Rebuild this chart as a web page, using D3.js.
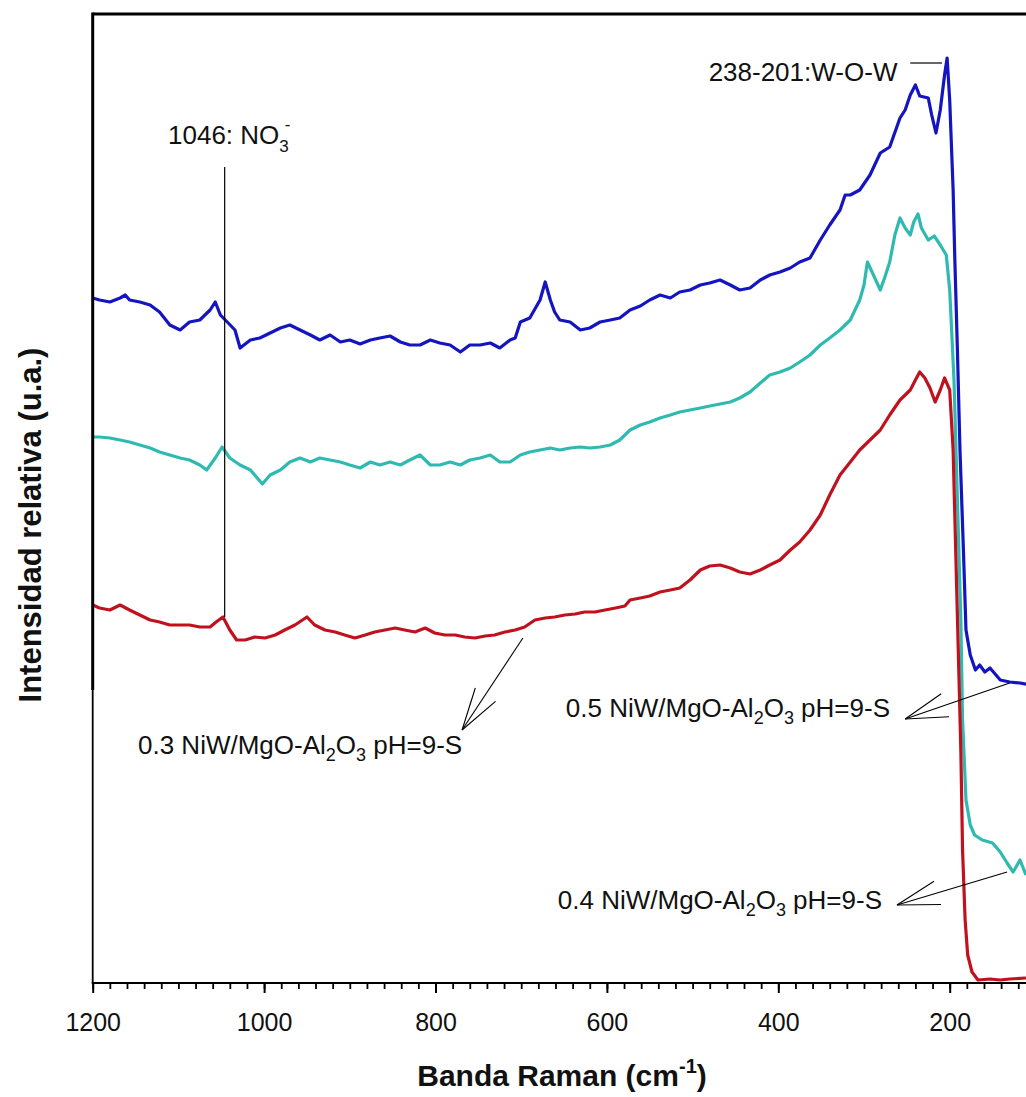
<!DOCTYPE html>
<html>
<head>
<meta charset="utf-8">
<script src="https://cdn.jsdelivr.net/npm/d3@7"></script>
<style>
  html, body { margin: 0; padding: 0; background: #fff; }
  svg { display: block; font-family: Arial, "Liberation Sans", sans-serif; }
</style>
</head>
<body>
<svg id="chart" width="1026" height="1097"></svg>
<script>
// Raman spectra of NiW/MgO-Al2O3 catalysts (pH=9, sulfided)
// wavenumber in cm-1, intensity in arbitrary units

const wnBlue = [1200,1192,1180,1168,1162,1157,1145,1133,1122,1110,1098,1087,1075,1063,1057,1051,1043,1034,1028,1016,1005,993,981,970,958,946,935,923,911,900,888,876,865,853,841,830,818,806,795,783,771,760,748,736,725,713,707,701,690,678,672,666,661,655,643,631,620,608,596,585,573,561,550,538,526,515,503,491,480,468,456,445,433,421,410,398,386,375,363,351,340,328,322,316,305,293,281,270,258,252,246,240,235,225,221,216,211,206,203,200,196,194,191,188,184,181,176,170,165,159,153,141,130,118,106];
const intBlue = [685,683,681,685,688,683,681,678,671,658,653,661,663,673,681,668,661,653,635,643,645,650,655,658,653,648,643,648,641,643,639,643,645,647,641,638,638,643,640,638,631,638,638,640,635,643,645,661,665,683,701,683,671,663,661,653,655,661,663,665,673,677,683,688,685,691,693,698,700,703,698,693,695,703,708,711,715,721,725,743,758,773,788,788,793,808,830,836,865,873,888,898,887,885,868,850,873,908,925,883,793,723,633,533,433,353,328,313,318,311,315,303,301,300,298];

const wnCyan = [1200,1192,1180,1168,1157,1145,1133,1122,1110,1098,1087,1075,1067,1057,1049,1040,1028,1016,1002,993,981,970,958,946,935,923,911,900,888,876,865,853,841,830,818,806,795,783,771,760,748,736,725,713,701,690,678,666,655,643,631,620,608,596,585,573,561,550,538,526,515,503,491,480,468,456,445,433,421,410,398,386,375,363,351,340,328,316,305,300,296,289,281,276,270,264,258,252,246,242,237,233,225,218,211,204,200,195,191,187,185,181,176,171,162,150,141,133,126,118,111];
const intCyan = [546,546,545,543,541,538,535,531,528,525,523,518,513,525,536,525,518,513,499,508,513,521,525,521,525,523,521,518,515,521,518,521,518,523,528,518,518,521,518,523,525,528,521,521,528,531,533,535,533,535,536,535,536,538,543,553,558,561,565,568,571,573,575,577,579,581,585,591,600,608,611,615,621,628,638,645,653,663,683,698,721,708,693,705,721,748,765,755,748,761,769,755,743,747,738,728,693,603,483,363,263,183,158,148,143,140,131,120,111,123,108];

const wnRed = [1200,1192,1180,1168,1157,1145,1133,1122,1110,1098,1087,1075,1063,1056,1048,1040,1032,1022,1011,999,987,976,964,950,941,929,917,906,894,882,871,859,847,836,824,812,801,789,777,766,754,742,731,719,707,696,684,672,661,649,637,626,614,602,590,579,573,561,550,538,526,515,503,491,480,468,456,445,433,421,410,398,386,375,363,351,340,328,316,305,293,281,270,258,246,240,235,229,223,217,211,206,200,196,193,190,187,185,182,179,174,167,153,141,130,111];
const intRed = [378,375,373,378,373,368,363,361,358,358,358,356,356,361,366,353,343,343,346,345,348,353,358,366,358,353,351,348,345,348,351,353,355,353,351,355,350,348,348,346,345,347,348,351,353,356,363,365,366,368,369,371,371,373,375,377,383,385,387,391,393,395,403,413,417,418,415,411,409,413,418,423,433,441,453,468,488,508,521,533,543,553,568,583,593,603,611,605,595,581,593,605,593,533,433,333,233,133,63,28,11,3,4,3,4,5];

const seriesNames = ["0.5 NiW/MgO-Al2O3 pH=9-S", "0.4 NiW/MgO-Al2O3 pH=9-S", "0.3 NiW/MgO-Al2O3 pH=9-S"];
const seriesColors = ["#1414c0", "#2fbab1", "#c0121e"];

const majorTicks = [1200, 1000, 800, 600, 400, 200];
const minorTicks = d3.range(1200, 99, -20);

// band markers: nitrate at 1046 cm-1, W-O-W doublet 238-201 cm-1
const nitrateBand = 1046;

const svg = d3.select("#chart");
const W = 1026;
const plotLeft = 92.7, plotTop = 14, plotBottom = 983;
const plotRight = plotLeft + 1100 * 0.857;

const x = d3.scaleLinear().domain([1200, 100]).range([plotLeft, plotRight]);
const y = d3.scaleLinear().domain([0, 969]).range([plotBottom, plotTop]);

// spectra
const line = d3.line().x(d => x(d[0])).y(d => y(d[1]));
const series = [
  { wn: wnBlue, val: intBlue, color: seriesColors[0] },
  { wn: wnCyan, val: intCyan, color: seriesColors[1] },
  { wn: wnRed, val: intRed, color: seriesColors[2] }
];
svg.append("g").selectAll("path").data(series).join("path")
  .attr("d", s => line(s.wn.map((w, i) => [w, s.val[i]])))
  .attr("fill", "none")
  .attr("stroke", s => s.color)
  .attr("stroke-width", 3.2)
  .attr("stroke-linejoin", "round");

// frame
svg.append("line").attr("x1", plotLeft).attr("x2", W + 5).attr("y1", plotTop).attr("y2", plotTop)
  .attr("stroke", "#000").attr("stroke-width", 3);
svg.append("line").attr("x1", plotLeft).attr("x2", plotLeft).attr("y1", plotTop - 1.5).attr("y2", 690)
  .attr("stroke", "#000").attr("stroke-width", 3);
svg.append("line").attr("x1", plotLeft).attr("x2", plotLeft).attr("y1", 690).attr("y2", plotBottom)
  .attr("stroke", "#000").attr("stroke-width", 1.8);
svg.append("line").attr("x1", plotLeft - 1).attr("x2", W + 5).attr("y1", plotBottom).attr("y2", plotBottom)
  .attr("stroke", "#000").attr("stroke-width", 2.2);

// bottom axis: minor and major ticks
const minorAxis = d3.axisBottom(x).tickValues(minorTicks).tickSize(6).tickFormat("");
const gMinor = svg.append("g").attr("transform", `translate(0,${plotBottom})`).call(minorAxis);
gMinor.select(".domain").remove();
gMinor.selectAll("line").attr("stroke", "#000").attr("stroke-width", 1.8);

const majorAxis = d3.axisBottom(x).tickValues(majorTicks).tickSize(10).tickPadding(20).tickFormat(d3.format("d"));
const gMajor = svg.append("g").attr("transform", `translate(0,${plotBottom})`).call(majorAxis);
gMajor.select(".domain").remove();
gMajor.selectAll("line").attr("stroke", "#000").attr("stroke-width", 2);
gMajor.selectAll("text").attr("font-size", 25).attr("fill", "#111")
  .attr("font-family", "Arial, 'Liberation Sans', sans-serif");

// axis titles
const xTitle = svg.append("text").attr("x", 562).attr("y", 1086).attr("text-anchor", "middle")
  .attr("font-size", 30).attr("font-weight", "bold").attr("fill", "#111");
xTitle.append("tspan").text("Banda Raman (cm");
xTitle.append("tspan").attr("font-size", 20).attr("dy", -13).text("-1");
xTitle.append("tspan").attr("dy", 13).text(")");

svg.append("text").attr("transform", "translate(41,525) rotate(-90)")
  .attr("text-anchor", "middle").attr("font-size", 31).attr("font-weight", "bold").attr("fill", "#111")
  .text("Intensidad relativa (u.a.)");

// annotations
const ann = svg.append("g").attr("fill", "#111").attr("font-size", 26);

// nitrate marker
ann.append("line").attr("x1", x(nitrateBand)).attr("x2", x(nitrateBand))
  .attr("y1", y(816)).attr("y2", y(366)).attr("stroke", "#000").attr("stroke-width", 1.2);
const tNo3 = ann.append("text").attr("x", 168).attr("y", 144);
tNo3.append("tspan").text("1046: NO");
tNo3.append("tspan").attr("font-size", 17).attr("dy", 8).text("3");
tNo3.append("tspan").attr("font-size", 17).attr("dx", -4).attr("dy", -22).text("-");

// W-O-W marker
ann.append("line").attr("x1", x(246)).attr("x2", x(209)).attr("y1", y(920)).attr("y2", y(920))
  .attr("stroke", "#000").attr("stroke-width", 1.2);
ann.append("text").attr("x", x(261)).attr("y", 81).attr("text-anchor", "end").text("238-201:W-O-W");

// arrows pointing at each spectrum
function arrow(from, to) {
  const x0 = x(from[0]), y0 = y(from[1]), x1 = x(to[0]), y1 = y(to[1]);
  const ang = Math.atan2(y0 - y1, x0 - x1);
  const len = 44, spread = 16 * Math.PI / 180;
  const g = ann.append("g").attr("stroke", "#000").attr("stroke-width", 1.1).attr("fill", "none");
  g.append("line").attr("x1", x0).attr("y1", y0).attr("x2", x1).attr("y2", y1);
  [-spread, spread].forEach(s => {
    g.append("line").attr("x1", x1).attr("y1", y1)
      .attr("x2", x1 + len * Math.cos(ang + s)).attr("y2", y1 + len * Math.sin(ang + s));
  });
}
arrow([698, 345], [769, 253]);
arrow([130, 300], [252, 264]);
arrow([133, 111], [261.5, 78]);

function sampleLabel(txt, xPos, yPos, anchor) {
  const parts = txt.split("Al2O3");
  const t = ann.append("text").attr("x", xPos).attr("y", yPos).attr("text-anchor", anchor);
  t.append("tspan").text(parts[0] + "Al");
  t.append("tspan").attr("font-size", 18).attr("dy", 7).text("2");
  t.append("tspan").attr("dy", -7).text("O");
  t.append("tspan").attr("font-size", 18).attr("dy", 7).text("3");
  t.append("tspan").attr("dy", -7).text(parts[1]);
}
sampleLabel(seriesNames[0], 890, 717, "end");
sampleLabel(seriesNames[1], 882, 909, "end");
sampleLabel(seriesNames[2], 138, 754, "start");
</script>
</body>
</html>
